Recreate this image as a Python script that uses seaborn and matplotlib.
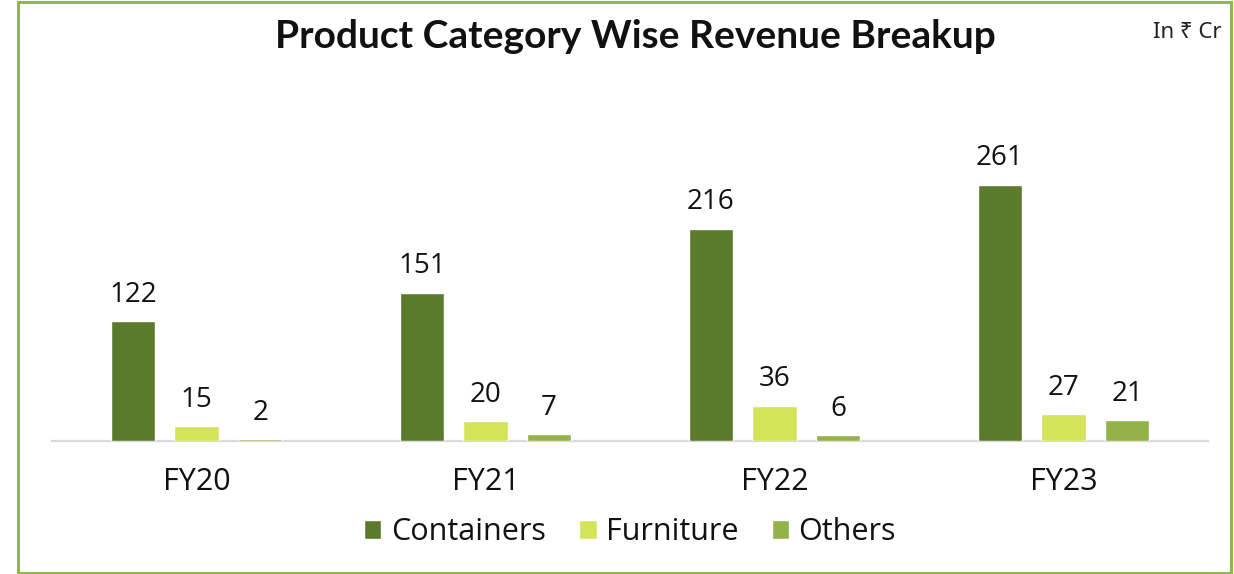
import matplotlib
matplotlib.use("Agg")
import matplotlib.pyplot as plt
from matplotlib.patches import Rectangle
import seaborn as sns
import pandas as pd

years = ["FY20", "FY21", "FY22", "FY23"]
categories = ["Containers", "Furniture", "Others"]
containers = [122, 151, 216, 261]
furniture = [15, 20, 36, 27]
others = [2, 7, 6, 21]
colors = ["#5a7b2b", "#d4e35a", "#93b34a"]

rows = []
for cat, vals in zip(categories, [containers, furniture, others]):
    for yr, v in zip(years, vals):
        rows.append({"year": yr, "category": cat, "revenue": v})
df = pd.DataFrame(rows)

sns.set_theme(style="white")
plt.rcParams["font.family"] = ["Open Sans", "DejaVu Sans"]

W, H = 1234, 574
fig = plt.figure(figsize=(W / 100, H / 100), dpi=100)
ax = fig.add_axes([52 / W, (H - 441) / H, (1208 - 52) / W, (441 - 146.4) / H])

sns.barplot(data=df, x="year", y="revenue", hue="category", order=years,
            hue_order=categories, palette=colors, width=0.66, gap=0.3,
            ax=ax, saturation=1, zorder=3)

for cont in ax.containers:
    ax.bar_label(cont, fmt="%d", padding=9, fontsize=20, color="#111111")

ax.set_xlim(-0.5, 3.5)
ax.set_ylim(0, 300)
ax.set_xlabel("")
ax.set_ylabel("")
ax.set_yticks([])
for s in ["left", "right", "top"]:
    ax.spines[s].set_visible(False)
ax.spines["bottom"].set_color("#d9d9d9")
ax.spines["bottom"].set_linewidth(1.6)
ax.spines["bottom"].set_zorder(1)
ax.tick_params(axis="x", length=0, pad=19, labelsize=22, labelcolor="#111111")

handles, labels = ax.get_legend_handles_labels()
ax.get_legend().remove()
fig.legend(handles, labels, loc="center", bbox_to_anchor=(630 / W, 1 - 532 / H),
           ncol=3, frameon=False, fontsize=22, handlelength=0.57,
           handleheight=0.57, handletextpad=0.3, columnspacing=1.1,
           labelcolor="#111111")

fig.text(635 / W, 1 - 37 / H, "Product Category Wise Revenue Breakup",
         ha="center", va="center", fontsize=28, fontweight="bold",
         family=["Lato", "DejaVu Sans"], color="#111111")
fig.text(1222 / W, 1 - 33 / H, "In ₹ Cr", ha="right", va="center",
         fontsize=16, family=["Noto Sans", "DejaVu Sans"], color="#222222")

fig.patches.append(Rectangle((18 / W, 1.5 / H), (1231 - 18) / W, (572 - 1.5) / H,
                             transform=fig.transFigure, fill=False,
                             edgecolor="#8db84a", linewidth=2.2))

fig.savefig("out.png", dpi=100)
